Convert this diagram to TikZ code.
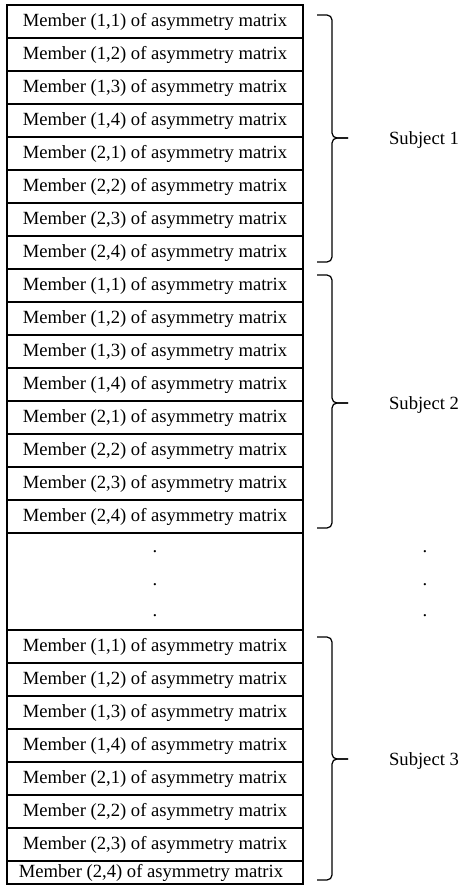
\documentclass[tikz,border=0pt]{standalone}
\usepackage{fontspec}
\setmainfont{Liberation Serif}
\usetikzlibrary{positioning}
\tikzset{
  cell/.style={draw, line width=0.7pt, minimum width=5.92cm, minimum height=0.66cm, inner sep=0pt, outer sep=0pt},
  dotmark/.style={inner sep=0pt},
  brace/.style={line width=0.7pt, rounded corners=0.1cm},
  subject/.style={inner sep=0pt},
}

\begin{document}
\begin{tikzpicture}[x=0.02cm, y=-0.02cm, font=\fontsize{10.6}{12}\selectfont]
\useasboundingbox (0,0) rectangle (461,886);
% member rows of each subject
\foreach \g/\top/\n in {1/5/8, 2/269/8, 3/630/7}
  \foreach \k in {1,...,\n} {
    \pgfmathtruncatemacro\ri{(\k-1)/4+1}
    \pgfmathtruncatemacro\rj{mod(\k-1,4)+1}
    \node[cell] (s\g r\k) at (155,\top+33*\k-16.5) {Member (\ri,\rj) of asymmetry matrix};
  }
\node[cell, minimum height=1.94cm, below=0pt of s2r8] (gap) {};
\node[cell, minimum height=0.46cm, below=0pt of s3r7] (s3r8) {\hspace*{-0.16cm}Member (2,4) of asymmetry matrix};
% dots
\foreach \y [count=\i] in {552,585,616} {
  \node[dotmark] (dl\i) at (155,\y) {.};
  \node[dotmark] (dr\i) at (425,\y) {.};
}
% braces
\foreach \g/\a/\m/\b in {1/15/138/262, 2/275/403/528, 3/637/759/880} {
  \draw[brace] (317,\a) -- (332,\a) -- (332,\m) -- (348,\m);
  \draw[brace] (348,\m) -- (332,\m) -- (332,\b) -- (317,\b);
  \node[subject] (sub\g) at (424,\m+2) {Subject \g};
}
\end{tikzpicture}
\end{document}
